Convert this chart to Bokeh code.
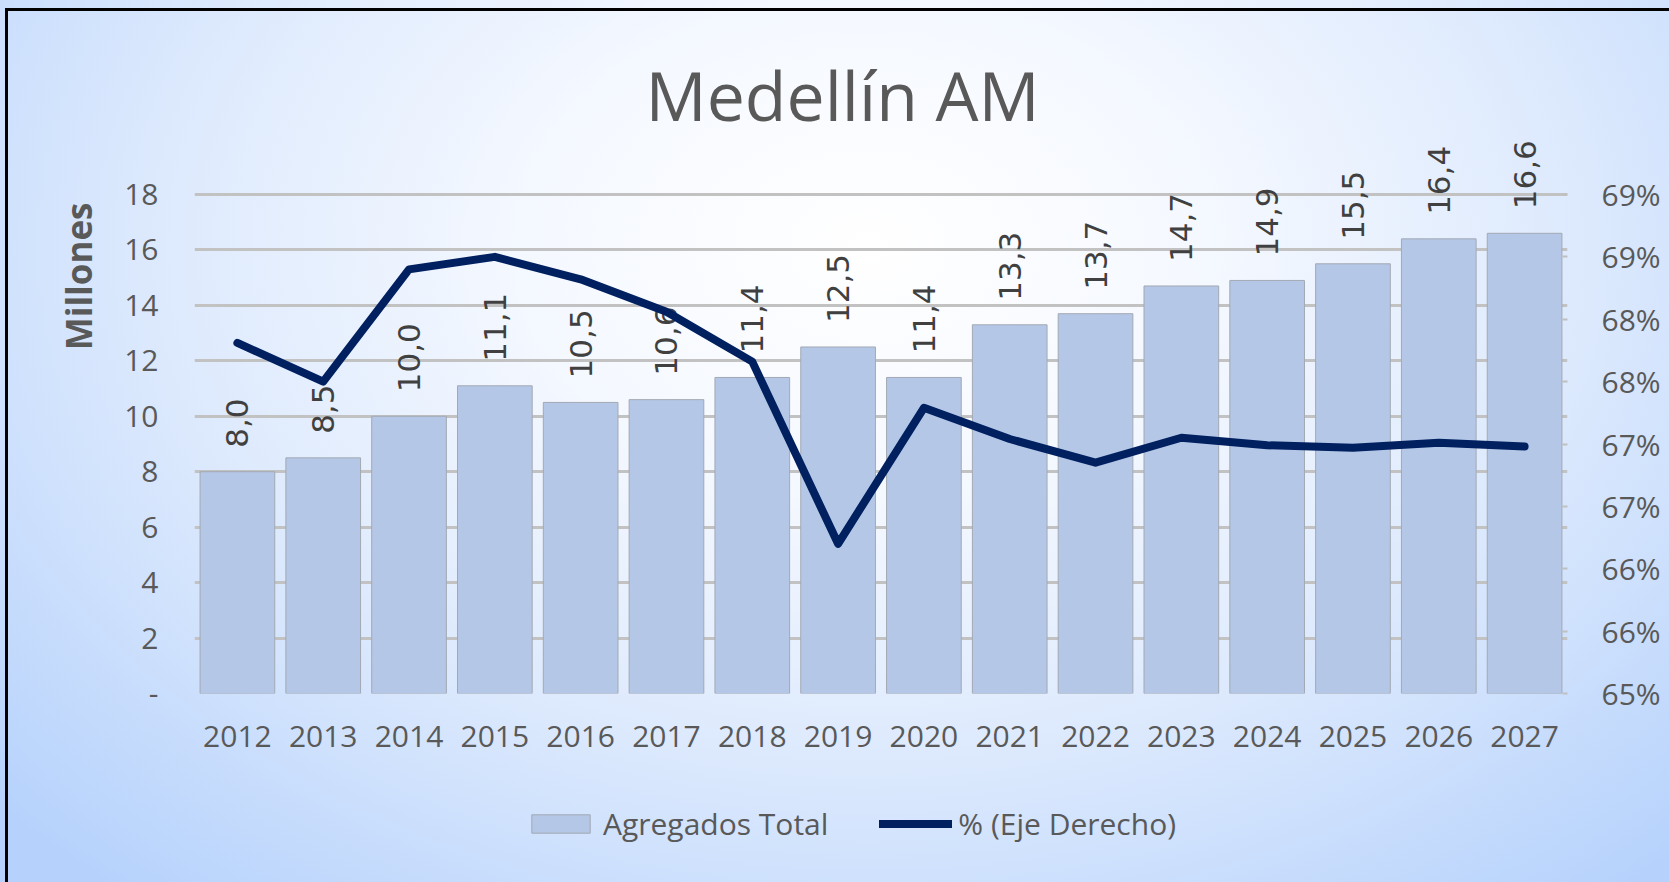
import math
from bokeh.plotting import figure
from bokeh.layouts import column
from bokeh.models import (Range1d, FactorRange, LinearAxis, FixedTicker, Title,
                          Legend, LegendItem, ColumnDataSource)
from bokeh.core.properties import value
from bokeh.embed import file_html
from bokeh.resources import INLINE

# ---------------- data ----------------
years = ["2012", "2013", "2014", "2015", "2016", "2017", "2018", "2019",
         "2020", "2021", "2022", "2023", "2024", "2025", "2026", "2027"]
agregados_total = [8.0, 8.5, 10.0, 11.1, 10.5, 10.6, 11.4, 12.5,
                   11.4, 13.3, 13.7, 14.7, 14.9, 15.5, 16.4, 16.6]
pct_eje_derecho = [67.81, 67.50, 68.40, 68.50, 68.32, 68.06, 67.66, 66.20,
                   67.29, 67.04, 66.85, 67.05, 66.99, 66.97, 67.01, 66.98]
left_ticks = [0, 2, 4, 6, 8, 10, 12, 14, 16, 18]
left_tick_labels = ["-", "2", "4", "6", "8", "10", "12", "14", "16", "18"]
right_ticks = [65.0, 65.5, 66.0, 66.5, 67.0, 67.5, 68.0, 68.5, 69.0]
right_tick_labels = ["65%", "66%", "66%", "67%", "67%", "68%", "68%", "69%", "69%"]
title_text = "Medellín AM"
y_axis_title = "Millones"
series_names = ["Agregados Total", "% (Eje Derecho)"]
bar_labels = [f"{v:.1f}".replace(".", ",") for v in agregados_total]

# ---------------- layout ----------------
W, H = 1669, 882
b_left, b_right, b_top, b_bottom = 194, 102, 140, 75
frame_w, frame_h = 1373, 553
legend_h = H - (b_top + frame_h + b_bottom)
px_per_unit = 499 / 18.0
y_top = frame_h / px_per_unit
pct_top = 65 + y_top * 4 / 18.0

GRAY = "#595959"
FONT = "Open Sans"
BAR_FILL, BAR_LINE = "#b4c7e7", "#a3a9b3"
LINE_COLOR = "#002060"

p = figure(x_range=FactorRange(*years, range_padding=0),
           y_range=Range1d(0, y_top),
           frame_width=frame_w, frame_height=frame_h,
           min_border_left=b_left, min_border_right=b_right,
           min_border_top=b_top, min_border_bottom=b_bottom,
           output_backend="svg", toolbar_location=None)
p.extra_y_ranges = {"pct": Range1d(65, pct_top)}
p.background_fill_alpha = 0
p.border_fill_alpha = 0
p.outline_line_color = None

src = ColumnDataSource(dict(x=years, top=agregados_total, lab=bar_labels,
                            pct=pct_eje_derecho))

p.vbar(x="x", top="top", width=0.87, source=src,
       fill_color=BAR_FILL, line_color=BAR_LINE, line_width=1)
p.text(x="x", y="top", text="lab", source=src, angle=math.pi / 2,
       text_align="left", text_baseline="middle", y_offset=-24,
       text_font=value("DejaVu Sans"), text_font_size="31px",
       text_color="#404040")
p.line(x="x", y="pct", source=src, y_range_name="pct",
       line_color=LINE_COLOR, line_width=8,
       line_join="round", line_cap="round")

# axes
p.yaxis.ticker = FixedTicker(ticks=left_ticks)
p.yaxis.major_label_overrides = dict(zip(left_ticks, left_tick_labels))
for ax in [p.yaxis[0], p.xaxis[0]]:
    ax.axis_line_color = None
    ax.major_tick_line_color = None
    ax.minor_tick_line_color = None
    ax.major_label_text_font = FONT
    ax.major_label_text_font_size = "30px"
    ax.major_label_text_color = GRAY
p.yaxis.major_label_standoff = 30
p.xaxis.major_label_standoff = 26

rax = LinearAxis(y_range_name="pct", ticker=FixedTicker(ticks=right_ticks),
                 major_label_overrides=dict(zip(right_ticks, right_tick_labels)))
rax.axis_line_color = None
rax.minor_tick_line_color = None
rax.major_tick_line_color = "#bfbfbf"
rax.major_tick_line_width = 2
rax.major_tick_in = 5
rax.major_tick_out = 0
rax.major_label_standoff = 34
rax.major_label_text_font = FONT
rax.major_label_text_font_size = "30px"
rax.major_label_text_color = GRAY
p.add_layout(rax, "right")

p.xgrid.grid_line_color = None
p.ygrid.grid_line_color = "#c2c2c2"
p.ygrid.grid_line_width = 3

# chart title (above) and y axis title (left)
p.title.text = title_text
p.title.align = "left"
p.title.offset = 451
p.title.standoff = 0
p.title.text_font = FONT
p.title.text_font_size = "68px"
p.title.text_font_style = "normal"
p.title.text_color = GRAY

p.add_layout(Title(text=y_axis_title, align="right", offset=62, standoff=40,
                   text_font=FONT, text_font_style="bold",
                   text_font_size="35px", text_color=GRAY), "left")

# ---------------- legend strip ----------------
# The series are drawn again here only to feed the legend; the y range keeps
# them far out of view so that only the legend shows.
p2 = figure(width=W, height=legend_h, min_border=0, x_axis_type=None,
            y_axis_type=None, x_range=FactorRange(*years),
            y_range=Range1d(1000, 2000),
            output_backend="svg", toolbar_location=None)
p2.background_fill_alpha = 0
p2.border_fill_alpha = 0
p2.outline_line_color = None
p2.xgrid.visible = False
p2.ygrid.visible = False
r_bar = p2.vbar(x="x", top="top", width=0.87, source=src,
                fill_color=BAR_FILL, line_color=BAR_LINE, line_width=1)
r_line = p2.line(x="x", y="pct", source=src, line_color=LINE_COLOR,
                 line_width=8, line_cap="round")
legend = Legend(items=[LegendItem(label=series_names[0], renderers=[r_bar]),
                       LegendItem(label=series_names[1], renderers=[r_line])],
                orientation="horizontal", location=(330, 38),
                glyph_width=73, glyph_height=23, label_standoff=6, spacing=51,
                padding=0, margin=0, background_fill_alpha=0,
                border_line_alpha=0, label_text_font=FONT,
                label_text_font_size="30px", label_text_color=GRAY)
p2.add_layout(legend)

page = column(p, p2, spacing=0, styles={
    "background": (
        "linear-gradient(#000,#000) 5px 8px / 3px 100% no-repeat, "
        "linear-gradient(#000,#000) 5px 8px / 100% 3px no-repeat, "
        "radial-gradient(ellipse 70% 95% at 52% 28%, #ffffff 0%, #f4f8ff 30%, "
        "#dce9fd 62%, #b6d2fc 100%)"
    )
})

open("out.html", "w").write(file_html(page, INLINE))
